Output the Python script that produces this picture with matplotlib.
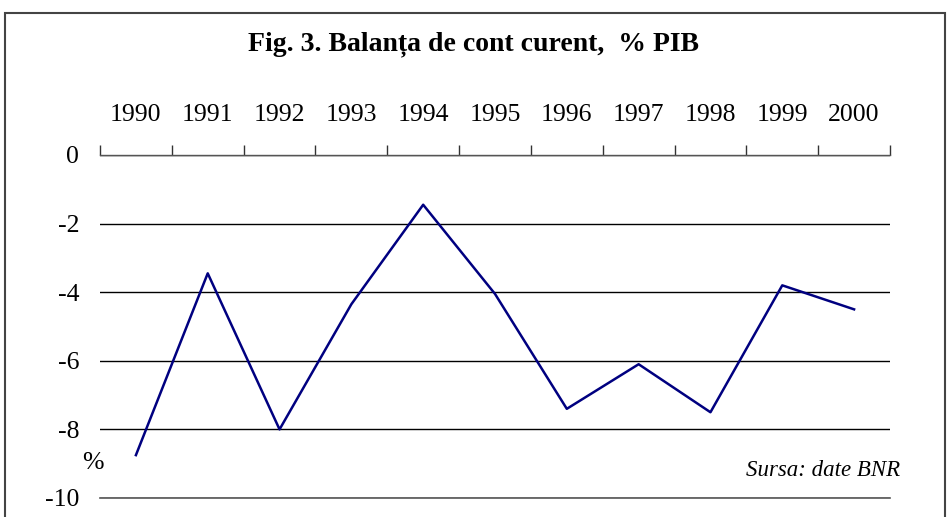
import matplotlib.pyplot as plt
import matplotlib.patches as mpatches
import numpy as np

years = ["1990", "1991", "1992", "1993", "1994", "1995", "1996", "1997", "1998", "1999", "2000"]
balance = [-8.75, -3.45, -8.0, -4.35, -1.45, -4.05, -7.4, -6.1, -7.5, -3.8, -4.5]
yticks = [0, -2, -4, -6, -8, -10]

plt.rcParams["font.family"] = ["Liberation Serif", "DejaVu Serif"]

fig = plt.figure(figsize=(9.47, 5.17), dpi=100)
ax = fig.add_axes([100 / 947, 1 - 498 / 517, 790 / 947, 343 / 517])

x = np.arange(len(years))
ax.plot(x, balance, color="#000080", linewidth=1.8)

ax.set_xlim(-0.5, len(years) - 0.5)
ax.set_ylim(-10, 0)

# category axis on top, ticks between categories, labels at centres
ax.xaxis.tick_top()
ax.set_xticks(np.arange(-0.5, len(years), 1.0))
ax.set_xticklabels([])
ax.set_xticks(x, minor=True)
ax.set_xticklabels(years, minor=True, fontsize=18.5)
ax.tick_params(axis="x", which="major", direction="out", length=7, width=1, color="#333333", top=True)
ax.tick_params(axis="x", which="minor", length=0, pad=21, top=True)

ax.set_yticks(yticks)
ax.set_yticklabels([str(v) for v in yticks], fontsize=18.5)
ax.tick_params(axis="y", length=0, pad=15)
ax.yaxis.grid(True, color="black", linewidth=1)
ax.set_axisbelow(True)

for side in ["left", "right"]:
    ax.spines[side].set_visible(False)
ax.spines["top"].set_color("#555555")
ax.spines["top"].set_linewidth(1)
ax.spines["bottom"].set_color("#555555")
ax.spines["bottom"].set_linewidth(1.2)

fig.text(0.5, 1 - 44 / 517, "Fig. 3. Balanța de cont curent,  % PIB",
         ha="center", va="center", fontsize=20, fontweight="bold")
fig.text(93 / 947, 1 - 463 / 517, "%", ha="center", va="center", fontsize=18.5)
fig.text(900 / 947, 1 - 470 / 517, "Sursa: date BNR", ha="right", va="center",
         fontsize=16.5, style="italic")

frame = mpatches.Rectangle((5 / 947, -0.05), 940 / 947, 1.05 - 13 / 517,
                           transform=fig.transFigure, fill=False,
                           edgecolor="#444444", linewidth=1.5)
fig.patches.append(frame)

fig.savefig("out.png", dpi=100)
